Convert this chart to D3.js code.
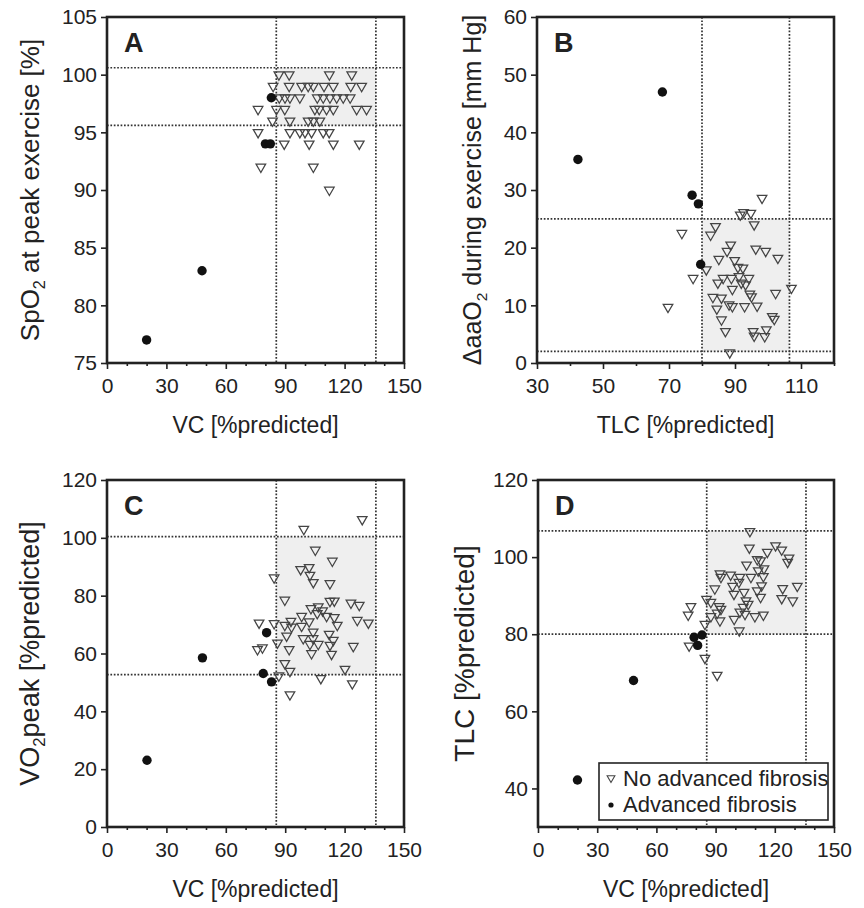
<!DOCTYPE html>
<html>
<head>
<meta charset="utf-8">
<script src="https://cdn.jsdelivr.net/npm/d3@7"></script>
<style>
  body { margin: 0; background: #fff; }
  svg text { font-family: "Liberation Sans", Arial, sans-serif; fill: #222; }
</style>
</head>
<body>
<div id="root"></div>
<script>
const width = 864;
const height = 908;

// Data: [x, y] per patient

// A: VC vs SpO2 at peak exercise
const aNoFibrosis = [
  [86.8, 100], [92, 100], [112.3, 100], [123.6, 100],
  [83.9, 99], [92, 99], [98.3, 99], [101.6, 99], [104.2, 99], [109.6, 99], [114.3, 99], [123.1, 99], [128.6, 99],
  [87, 98], [89.9, 98], [92.4, 98], [97.4, 98], [106.2, 98], [109.2, 98], [112.6, 98], [116, 98], [119.3, 98], [122.8, 98],
  [76.3, 97], [85.6, 97], [89.8, 97], [105, 97], [107.2, 97], [110.9, 97], [114.3, 97], [126.1, 97], [131.1, 97],
  [83.6, 96], [92.4, 96], [101.6, 96], [104.2, 96], [107.5, 96],
  [76.3, 95], [92.4, 95], [97.4, 95], [100, 95], [103.3, 95], [109.2, 95], [112.2, 95],
  [89.5, 94], [102.1, 94], [114.3, 94], [127.4, 94],
  [77.7, 92], [104.2, 92],
  [112.3, 90],
];
const aFibrosis = [[20, 77], [48, 83], [80, 94], [82.5, 94], [83, 98]];

// B: TLC vs delta aaO2 during exercise
const bNoFibrosis = [
  [98.2, 28.6], [91.6, 25.7], [92.6, 26.1], [94.8, 26], [95.8, 24], [84.1, 23.7], [82.6, 22.2], [73.9, 22.5],
  [88.7, 20.5], [87.6, 19.4], [85.1, 18], [96.3, 19.8], [99.3, 19.4], [103, 18.2], [89.9, 17.8], [90.9, 16.6],
  [92.4, 16.5], [81.3, 16.2], [77.3, 14.7], [84.8, 13.9], [86.4, 14.7], [88.9, 14.7], [91.2, 15], [91.9, 13.9],
  [94.2, 14.7], [93.2, 13.6], [89.2, 12.8], [107.1, 13], [102.3, 12.1], [94.5, 12], [95, 11.5], [83.3, 11.4],
  [85.9, 11.3], [88.2, 10.1], [89.2, 9.8], [84.5, 9.4], [92.9, 9.8], [96.7, 9.9], [69.7, 9.7], [85.9, 7.5],
  [101.3, 8.1], [101.9, 7.6], [87.1, 5.5], [95.5, 5.5], [95.8, 4.7], [99.5, 5.8], [99, 4.6], [88.4, 1.8],
];
const bFibrosis = [[42.4, 35.3], [68, 47], [77, 29.1], [78.9, 27.6], [79.6, 17.1]];

// C: VC vs VO2peak
const cNoFibrosis = [
  [128.9, 106.4], [99.4, 103], [105.2, 95.8], [113.8, 92], [97.8, 89.1], [102.1, 89.8], [102.5, 87.1],
  [104.2, 84.6], [112.6, 84.2], [84.4, 86.2], [89.8, 78.5], [112.6, 78.1], [114.8, 78.2], [123.2, 77.5],
  [127.4, 76.7], [103, 75.6], [106.7, 76.2], [108.9, 74.8], [106.2, 73.9], [110.9, 72.9], [114.8, 72.5],
  [116.3, 69.8], [126.4, 71.5], [132, 70.6], [98.3, 72.9], [102.1, 71], [76.8, 70.6], [84.4, 70.4],
  [89.8, 69.8], [92.9, 71.2], [93.2, 69.2], [98.3, 69.5], [104.1, 67.5], [90.7, 66.1], [86.1, 63.7],
  [99.1, 65.2], [104.1, 65.2], [112.2, 66.7], [114.3, 64.6], [102.5, 63.2], [106.7, 63.2], [112.6, 62.9],
  [124.4, 62.5], [76, 61.4], [78.5, 62], [92, 61.4], [103.3, 60], [113.4, 59.8], [89.8, 56.6], [92.4, 53.9],
  [86.8, 52.3], [108, 51.4], [120.2, 54.6], [123.9, 49.6], [92.4, 45.8],
];
const cFibrosis = [[20.2, 23.1], [48.2, 58.5], [80.6, 67.2], [78.9, 53.1], [83.1, 50.2]];

// D: VC vs TLC
const dNoFibrosis = [
  [107.4, 106.7], [107.1, 102.4], [116.2, 101.3], [120.4, 103], [123.5, 101.9], [127.2, 99.8], [126.5, 98.7],
  [111.1, 99.4], [112.8, 99.1], [105.7, 98], [114.5, 97], [111.6, 96.5], [92.2, 95.7], [92.7, 94.8],
  [97.6, 95.4], [102.3, 94.8], [107.9, 94.8], [114.2, 95], [101.8, 93.5], [98.6, 92.5], [113.3, 92.6],
  [124, 91.9], [131.4, 92.5], [111.1, 91.3], [104.4, 90.9], [99.3, 90.4], [89.6, 91.8], [112.8, 89.6],
  [123.5, 89.3], [129.1, 88.7], [105.4, 88.7], [106.5, 87.8], [85.4, 89.1], [87.6, 88.3], [91.8, 87.2],
  [92.7, 86.5], [104, 87], [102.3, 85.8], [77.5, 87.2], [76.1, 85], [90.8, 85.5], [87.6, 84.6],
  [99.4, 83.9], [92.2, 83.5], [104.9, 85.2], [109.9, 84.6], [114.2, 85], [84.6, 82.6], [102, 80.9],
  [76.6, 77], [84.6, 73.8], [90.8, 69.4],
];
const dFibrosis = [[20, 42.2], [48.4, 68], [79.1, 79.2], [80.9, 77.1], [83.1, 79.8]];

// Axis ticks and normal-range limits
const vcTicks = [0, 30, 60, 90, 120, 150];
const tlcTicks = [30, 50, 70, 90, 110];
const spo2Ticks = [75, 80, 85, 90, 95, 100, 105];
const aao2Ticks = [0, 10, 20, 30, 40, 50, 60];
const vo2Ticks = [0, 20, 40, 60, 80, 100, 120];
const tlcYTicks = [40, 60, 80, 100, 120];

const vcLimits = [85.5, 135.8];
const tlcLimits = [80, 106.5];
const spo2Limits = [95.6, 100.6];
const aao2Limits = [2, 25];
const vo2Limits = [52.7, 100.4];
const tlcYLimits = [80, 106.8];

const legendLabels = ['No advanced fibrosis', 'Advanced fibrosis'];

// Canvas

const svg = d3
  .select('#root')
  .append('svg')
  .attr('width', width)
  .attr('height', height);

const triangle = d3.symbol().type(d3.symbolTriangle).size(40);

function drawPanel(p) {
  const x = d3.scaleLinear().domain(p.xDomain).range([p.left, p.left + p.w]);
  const y = d3.scaleLinear().domain(p.yDomain).range([p.top + p.h, p.top]);
  const g = svg.append('g');

  // normal range box
  g.append('rect')
    .attr('x', x(p.xLim[0]))
    .attr('y', y(p.yLim[1]))
    .attr('width', x(p.xLim[1]) - x(p.xLim[0]))
    .attr('height', y(p.yLim[0]) - y(p.yLim[1]))
    .attr('fill', '#efefef');

  g.selectAll('.vline')
    .data(p.xLim)
    .join('line')
    .attr('x1', (d) => x(d))
    .attr('x2', (d) => x(d))
    .attr('y1', p.top)
    .attr('y2', p.top + p.h)
    .attr('stroke', '#333')
    .attr('stroke-width', 1.7)
    .attr('stroke-dasharray', '1.7,1.7');

  g.selectAll('.hline')
    .data(p.yLim)
    .join('line')
    .attr('x1', p.left)
    .attr('x2', p.left + p.w)
    .attr('y1', (d) => y(d))
    .attr('y2', (d) => y(d))
    .attr('stroke', '#333')
    .attr('stroke-width', 1.7)
    .attr('stroke-dasharray', '1.7,1.7');

  // axes
  const xAxis = g.append('g')
    .attr('transform', `translate(0,${p.top + p.h})`)
    .call(d3.axisBottom(x).tickValues(p.xTicks).tickSize(6).tickSizeOuter(0).tickPadding(9).tickFormat(d3.format('d')));
  g.append('g')
    .attr('transform', `translate(0,${p.top + p.h})`)
    .call(d3.axisBottom(x).tickValues(p.xMinor).tickSize(3).tickSizeOuter(0).tickFormat(''));
  const yAxis = g.append('g')
    .attr('transform', `translate(${p.left},0)`)
    .call(d3.axisLeft(y).tickValues(p.yTicks).tickSize(6).tickSizeOuter(0).tickPadding(4).tickFormat(d3.format('d')));

  [xAxis, yAxis].forEach((a) => a.attr('font-size', 21).attr('font-family', null));
  g.selectAll('.tick line').attr('stroke', '#222').attr('stroke-width', 1.6);
  g.selectAll('.domain').remove();

  // frame
  g.append('rect')
    .attr('x', p.left)
    .attr('y', p.top)
    .attr('width', p.w)
    .attr('height', p.h)
    .attr('fill', 'none')
    .attr('stroke', '#222')
    .attr('stroke-width', 2.6);

  // points
  g.selectAll('.tri')
    .data(p.noFib)
    .join('path')
    .attr('d', triangle)
    .attr('transform', (d) => `translate(${x(d[0])},${y(d[1])}) rotate(180)`)
    .attr('fill', 'none')
    .attr('stroke', '#444')
    .attr('stroke-width', 1.25);

  g.selectAll('.dot')
    .data(p.fib)
    .join('circle')
    .attr('cx', (d) => x(d[0]))
    .attr('cy', (d) => y(d[1]))
    .attr('r', 4.7)
    .attr('fill', '#111');

  // panel letter
  g.append('text')
    .attr('x', p.left + 17)
    .attr('y', p.top + 35)
    .attr('font-size', 27)
    .attr('font-weight', 'bold')
    .text(p.letter);

  // x title
  g.append('text')
    .attr('x', p.left + p.w / 2)
    .attr('y', p.top + p.h + 70)
    .attr('text-anchor', 'middle')
    .attr('font-size', 23)
    .text(p.xTitle);

  // y title, with optional subscript
  const yt = g.append('text')
    .attr('transform', `translate(${p.yTitleX},${p.top + p.h / 2}) rotate(-90)`)
    .attr('text-anchor', 'middle')
    .attr('font-size', p.yTitleSize);
  p.yTitle.forEach((part) => {
    const t = yt.append('tspan').text(part.t);
    if (part.sub) t.attr('font-size', p.yTitleSize * 0.62).attr('dy', 6);
    else if (part.after) t.attr('dy', -6);
  });

  return { x, y, g };
}

const vcMinor = d3.range(0, 151, 10).filter((d) => d % 30 !== 0);
const tlcMinor = d3.range(40, 121, 20);

drawPanel({
  letter: 'A', left: 107, top: 17, w: 297, h: 346,
  xDomain: [0, 150], yDomain: [75, 105],
  xTicks: vcTicks, xMinor: vcMinor, yTicks: spo2Ticks,
  xLim: vcLimits, yLim: spo2Limits,
  noFib: aNoFibrosis, fib: aFibrosis,
  xTitle: 'VC [%predicted]',
  yTitle: [{ t: 'SpO' }, { t: '2', sub: true }, { t: ' at peak exercise [%]', after: true }],
  yTitleX: 39, yTitleSize: 26,
});

drawPanel({
  letter: 'B', left: 537, top: 17, w: 297, h: 346,
  xDomain: [30, 120], yDomain: [0, 60],
  xTicks: tlcTicks, xMinor: tlcMinor, yTicks: aao2Ticks,
  xLim: tlcLimits, yLim: aao2Limits,
  noFib: bNoFibrosis, fib: bFibrosis,
  xTitle: 'TLC [%predicted]',
  yTitle: [{ t: '\u0394aaO' }, { t: '2', sub: true }, { t: ' during exercise [mm Hg]', after: true }],
  yTitleX: 481, yTitleSize: 25,
});

drawPanel({
  letter: 'C', left: 107, top: 480, w: 297, h: 347,
  xDomain: [0, 150], yDomain: [0, 120],
  xTicks: vcTicks, xMinor: vcMinor, yTicks: vo2Ticks,
  xLim: vcLimits, yLim: vo2Limits,
  noFib: cNoFibrosis, fib: cFibrosis,
  xTitle: 'VC [%predicted]',
  yTitle: [{ t: 'VO' }, { t: '2', sub: true }, { t: 'peak [%predicted]', after: true }],
  yTitleX: 39, yTitleSize: 27,
});

const d = drawPanel({
  letter: 'D', left: 538, top: 480, w: 296, h: 347,
  xDomain: [0, 150], yDomain: [30, 120],
  xTicks: vcTicks, xMinor: vcMinor, yTicks: tlcYTicks,
  xLim: vcLimits, yLim: tlcYLimits,
  noFib: dNoFibrosis, fib: dFibrosis,
  xTitle: 'VC [%predicted]',
  yTitle: [{ t: 'TLC [%predicted]' }],
  yTitleX: 474, yTitleSize: 28,
});

// Legend

const legend = d.g.append('g').attr('transform', 'translate(599,763)');
legend.append('rect')
  .attr('width', 229)
  .attr('height', 57)
  .attr('fill', '#fff')
  .attr('stroke', '#222')
  .attr('stroke-width', 1.6);
legend.append('path')
  .attr('d', d3.symbol().type(d3.symbolTriangle).size(26))
  .attr('transform', 'translate(12,15) rotate(180)')
  .attr('fill', 'none')
  .attr('stroke', '#444')
  .attr('stroke-width', 1.1);
legend.append('circle')
  .attr('cx', 12)
  .attr('cy', 42)
  .attr('r', 2.6)
  .attr('fill', '#111');
legend.selectAll('.lbl')
  .data(legendLabels)
  .join('text')
  .attr('x', 24)
  .attr('y', (t, i) => 23 + i * 26)
  .attr('font-size', 22)
  .text((t) => t);
</script>
</body>
</html>
